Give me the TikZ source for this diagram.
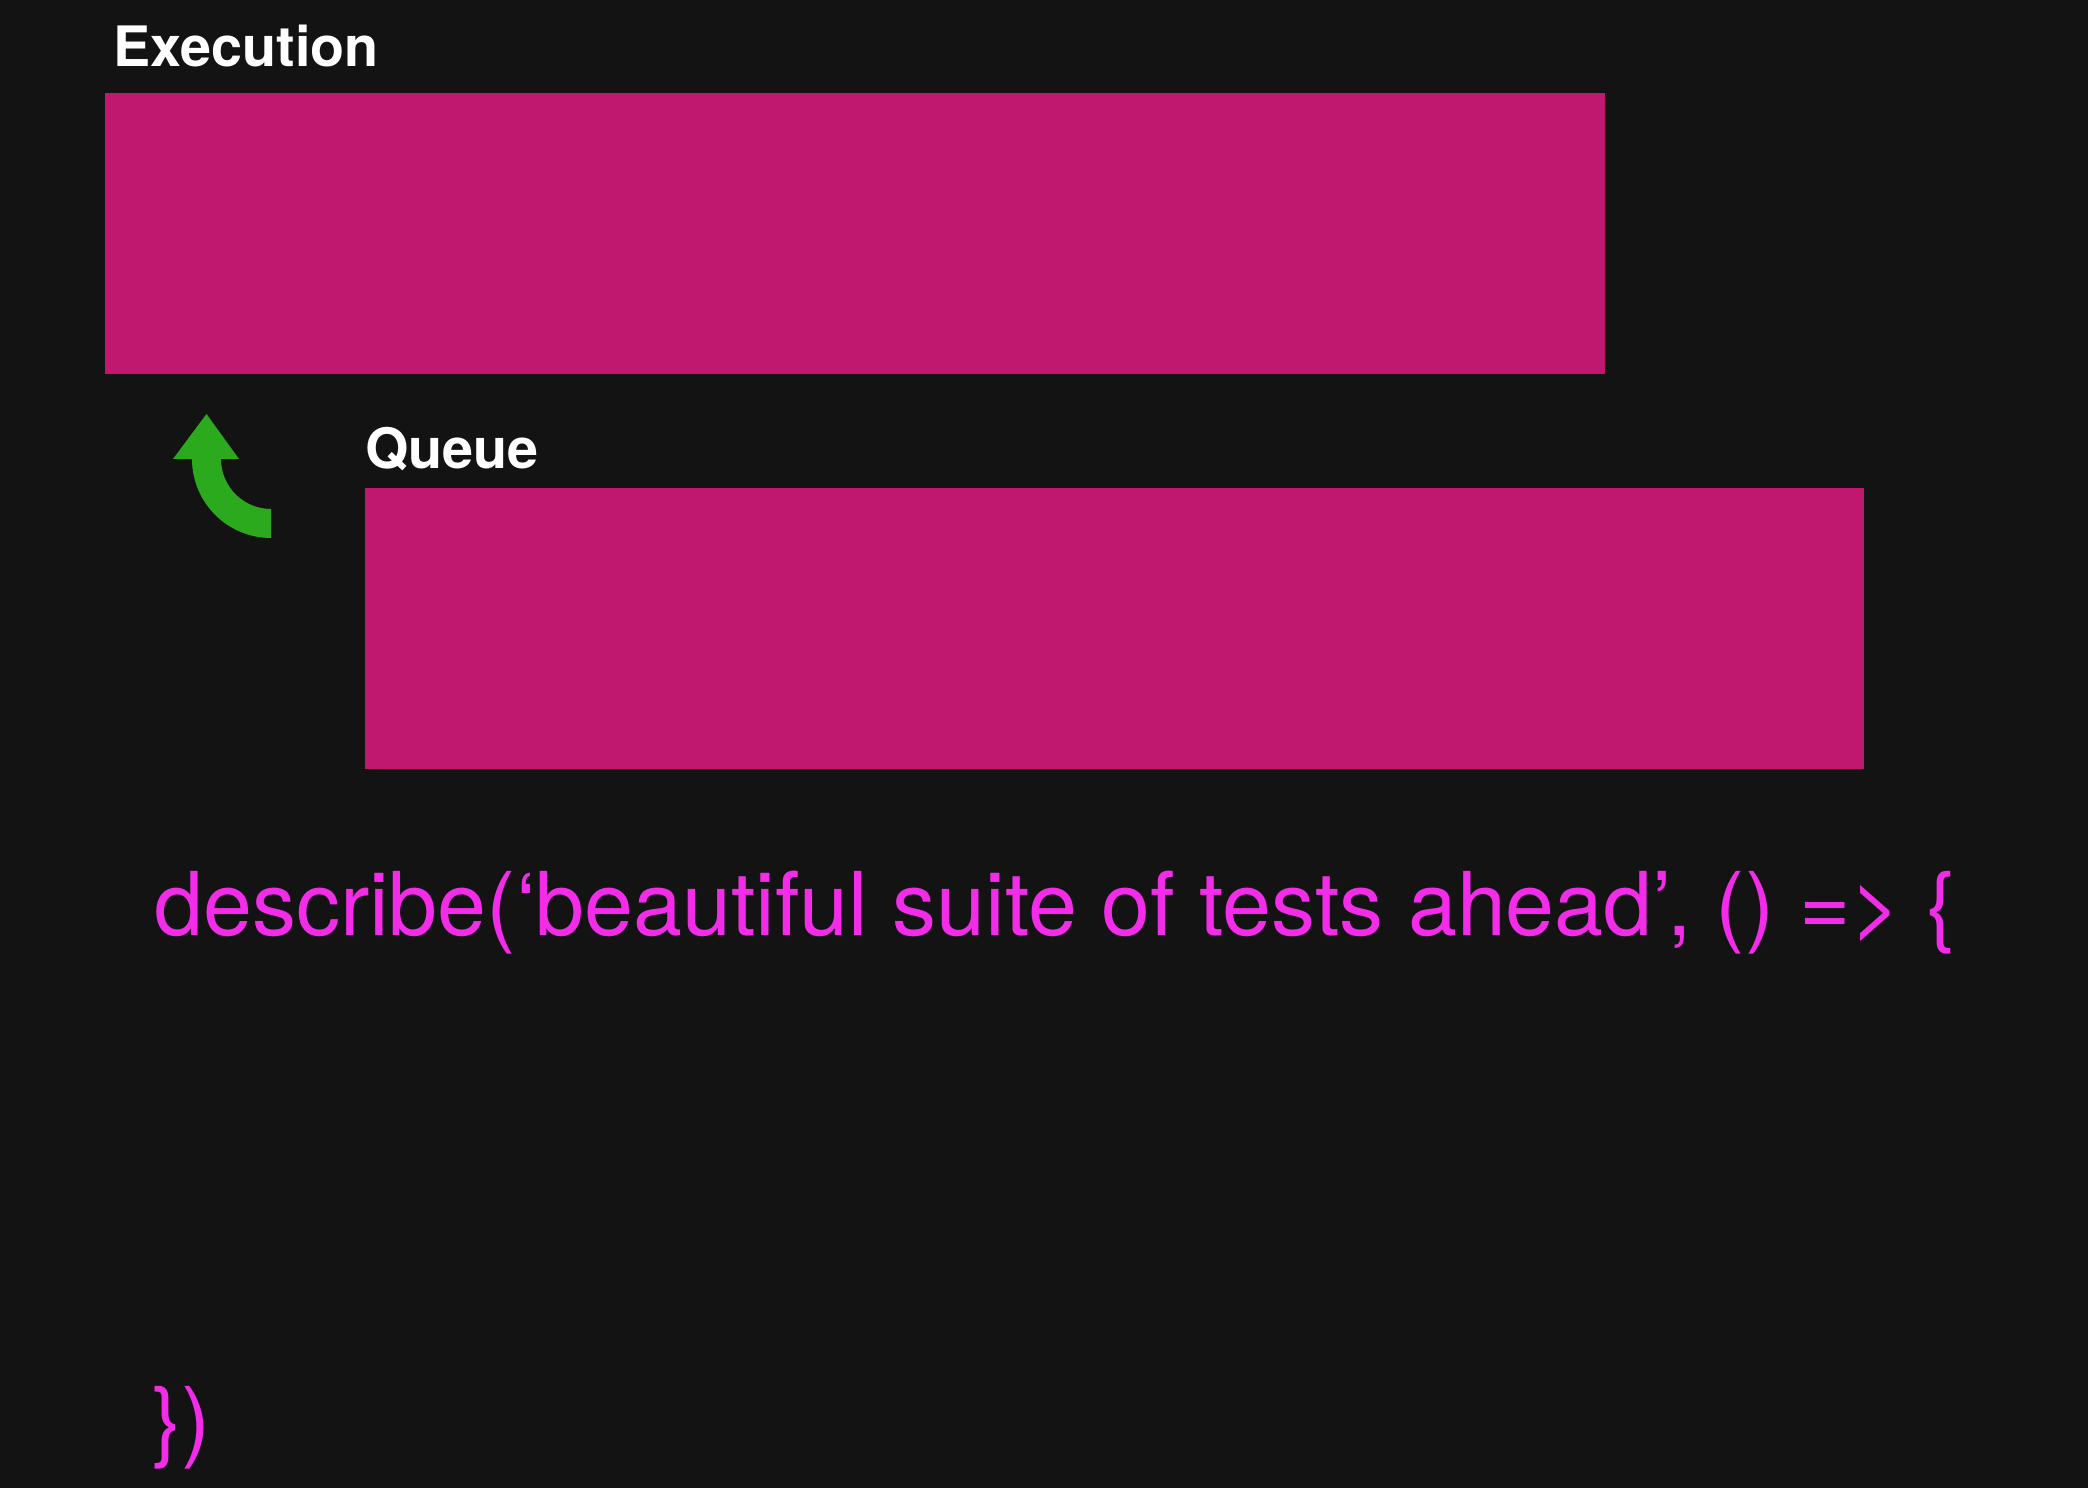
\documentclass[tikz,border=0pt]{standalone}
\usepackage{fontspec}
\setmainfont{TeX Gyre Heros}
\newfontfamily\codefont{TeX Gyre Heros}
\definecolor{bg}{HTML}{131313}
\definecolor{boxmag}{HTML}{C1186F}
\definecolor{codemag}{HTML}{F22CE8}
\definecolor{arrgreen}{HTML}{2BAA1D}
\tikzset{
  slab/.style={fill=boxmag, draw=none, inner sep=0pt, anchor=north west},
  label/.style={text=white, anchor=base west, inner sep=0pt, font=\fontsize{55.7}{60}\selectfont\bfseries},
  code/.style={text=codemag, anchor=base west, inner sep=0pt, font=\codefont\fontsize{88}{95}\selectfont},
}
\begin{document}
\begin{tikzpicture}[x=1pt,y=1pt]
\fill[bg] (0,0) rectangle (2088,1488);
\useasboundingbox (0,0) rectangle (2088,1488);
\node[slab, minimum width=1500pt, minimum height=281pt] (exec) at (105,1395) {};
\node[slab, minimum width=1499pt, minimum height=281pt] (queue) at (365,1000) {};
\node[label] (execlabel) at (113,1421) {Execution};
\node[label] (queuelabel) at (365,1019) {Queue};
\fill[arrgreen] (271,979) arc[start angle=270, end angle=180, radius=50]
  -- (239,1029) -- (206.5,1074) -- (173,1029) -- (192,1029)
  arc[start angle=180, end angle=270, radius=79] -- cycle;
\node[code] (line1) at (154,552) {describe(‘beautiful suite of tests ahead’, () => \{};
\node[code] (line2) at (152,37) {\})};
\end{tikzpicture}
\end{document}
